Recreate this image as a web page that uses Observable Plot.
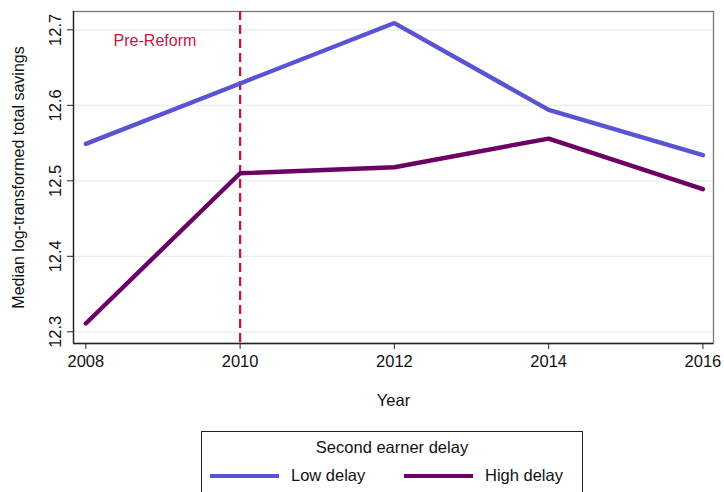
<!DOCTYPE html>
<html>
<head>
<meta charset="utf-8">
<script src="https://cdn.jsdelivr.net/npm/d3@7"></script>
<script src="https://cdn.jsdelivr.net/npm/@observablehq/plot@0.6"></script>
<style>
  body { margin: 0; background: #fff; font-family: "Liberation Sans", Arial, Helvetica, sans-serif; }
  #wrap { position: relative; width: 724px; height: 492px; overflow: hidden; }
  #legend { position: absolute; left: 201px; top: 431px; width: 382px; height: 80px; border: 1px solid #222; box-sizing: border-box; background: #fff; }
  #legend .title { position: absolute; left: 0; right: 0; top: 6px; text-align: center; font-size: 16.5px; color: #111; }
  #legend .item { position: absolute; top: 34px; font-size: 16.5px; color: #111; display: flex; align-items: center; }
  #legend .sw { display: inline-block; width: 69px; height: 4px; margin-right: 12px; }
</style>
</head>
<body>
<div id="wrap">
  <div id="chart"></div>
  <div id="legend"></div>
</div>
<script>
const years = [2008, 2010, 2012, 2014, 2016];
const lowDelay = [12.549, 12.629, 12.709, 12.594, 12.534];
const highDelay = [12.311, 12.510, 12.518, 12.556, 12.489];
const seriesNames = ["Low delay", "High delay"];
const seriesColors = ["#5a54d4", "#6c0064"];
const yTicks = [12.3, 12.4, 12.5, 12.6, 12.7];
const reformYear = 2010;
const annotation = "Pre-Reform";
const yTitle = "Median log-transformed total savings";

const data = [
  ...years.map((y, i) => ({year: y, value: lowDelay[i], series: seriesNames[0]})),
  ...years.map((y, i) => ({year: y, value: highDelay[i], series: seriesNames[1]}))
];

const chart = Plot.plot({
  width: 724,
  height: 431,
  marginLeft: 73,
  marginRight: 11,
  marginTop: 11,
  marginBottom: 88,
  style: {fontFamily: "'Liberation Sans', Arial, Helvetica, sans-serif", fontSize: "16px", color: "#111", background: "#fff"},
  x: {domain: [2007.84, 2016.137]},
  y: {domain: [12.2845, 12.7243]},
  color: {domain: seriesNames, range: seriesColors},
  marks: [
    Plot.gridY(yTicks, {stroke: "#e6eeef", strokeOpacity: 1, strokeWidth: 1.2}),
    Plot.frame({stroke: "#777", strokeWidth: 1.3}),
    Plot.axisX({ticks: years, tickFormat: d => String(d), tickSize: 6, tickPadding: 6, fontSize: 16.5, label: "Year", labelAnchor: "center", labelArrow: "none", labelOffset: 62, stroke: "#222"}),
    Plot.axisY({ticks: yTicks, tickFormat: d => d.toFixed(1), tickSize: 6, tickPadding: 7, tickRotate: -90, fontSize: 16.5, label: null, stroke: "#222"}),
    Plot.text([yTitle], {frameAnchor: "left", dx: -55, rotate: -90, textAnchor: "middle", fontSize: 16, fill: "#111"}),
    Plot.ruleY([12.2845], {stroke: "#222", strokeWidth: 1.3}),
    Plot.ruleX([2007.84], {stroke: "#222", strokeWidth: 1.3}),
    Plot.ruleX([reformYear], {stroke: "#c8143c", strokeWidth: 2.3, strokeDasharray: "9,5"}),
    Plot.text([annotation], {x: 2008.36, y: 12.686, textAnchor: "start", fill: "#c8143c", fontSize: 16}),
    Plot.line(data, {x: "year", y: "value", z: "series", stroke: "series", strokeWidth: 4.4, strokeLinejoin: "miter", strokeLinecap: "round"})
  ]
});
document.getElementById("chart").appendChild(chart);

const leg = document.getElementById("legend");
leg.innerHTML = `<div class="title">Second earner delay</div>` +
  seriesNames.map((n, i) => `<div class="item" style="left:${i === 0 ? 8 : 202}px"><span class="sw" style="background:${seriesColors[i]}"></span>${n}</div>`).join("");
</script>
</body>
</html>
